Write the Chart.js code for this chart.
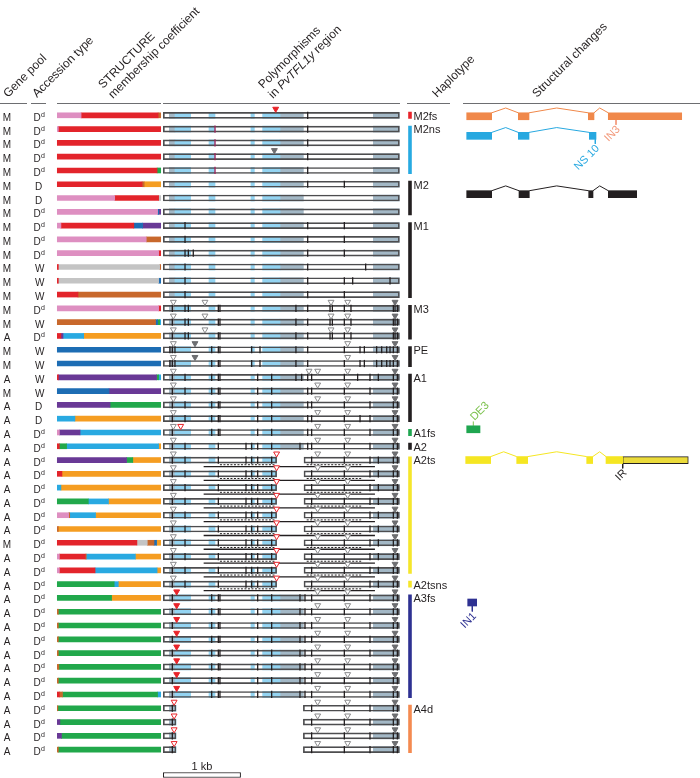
<!DOCTYPE html>
<html>
<head>
<meta charset="utf-8">
<script src="https://cdn.jsdelivr.net/npm/chart.js@4.4.0/dist/chart.umd.min.js"></script>
<style>
  html, body { margin: 0; padding: 0; background: #fff; }
  #wrap { position: relative; width: 700px; height: 778px; }
</style>
</head>
<body>
<div id="wrap"><canvas id="fig" width="700" height="778"></canvas></div>
<script>
// ---- accessions (one entry per row, top to bottom) ----
const genePool = ['M','M','M','M','M','M','M','M','M','M','M','M','M','M','M','M','A','M','M','A','M',
  'A','A','A','A','A','A','A','A','A','A','M','A','A','A','A','A','A','A','A','A','A','A','A','A','A','A'];
const accession = ['Dd','Dd','Dd','Dd','Dd','D','D','Dd','Dd','Dd','Dd','W','W','W','Dd','W','Dd','W','W','W','W','D','D',
  'Dd','Dd','Dd','Dd','Dd','Dd','Dd','Dd','Dd','Dd','Dd','Dd','Dd','Dd','Dd','Dd','Dd','Dd','Dd','Dd','Dd','Dd','Dd','Dd'];

// ---- STRUCTURE membership coefficients (left to right order) ----
const qPink = [0.23,0.01,0,0,0, 0,0.555,0.97,0.035,0.86, 0.98,0,0,0,0.98, 0,0,0,0,0, 0,0,0,0.02,0, 0,0,0,0,0.11, 0,0,0.02,0.02,0, 0,0,0,0,0, 0,0,0,0,0, 0,0];
const qRed = [0.745,0.99,1,1,0.965, 0.82,0.425,0,0.705,0, 0.02,0.01,0.01,0.2,0.02, 0,0.035,0,0,0.01, 0,0,0,0,0.02, 0,0.045,0,0,0, 0,0.77,0.25,0.345,0, 0,0,0,0,0, 0,0,0.02,0,0, 0,0];
const qGrey = [0,0,0,0,0, 0,0.02,0,0,0, 0,0.98,0.97,0,0, 0,0,0,0,0, 0,0,0,0,0, 0,0,0,0,0, 0,0.1,0,0,0, 0,0,0,0,0, 0,0,0,0,0, 0,0];
const qBrown = [0.025,0,0,0,0, 0.02,0,0,0,0.14, 0,0.01,0,0.8,0, 0.95,0,0,0,0, 0,0,0,0,0, 0,0,0,0,0.01, 0.01,0.065,0.01,0,0, 0,0.01,0.01,0.01,0.01, 0.015,0.01,0.03,0.005,0, 0,0.01];
const qDarkBlue = [0,0,0,0,0, 0,0,0.01,0.085,0, 0,0,0.02,0,0, 0.02,0,1,1,0, 0.5,0,0,0,0, 0,0,0,0,0, 0,0.025,0,0,0, 0,0,0,0,0, 0,0,0,0,0, 0,0];
const qPurple = [0,0,0,0,0, 0,0,0.02,0.175,0, 0,0,0,0,0, 0,0.02,0,0,0.95, 0.5,0.51,0,0.2,0, 0.67,0,0,0,0, 0,0,0,0,0, 0,0,0,0,0, 0,0,0,0,0.025, 0.04,0];
const qGreen = [0,0,0,0,0.035, 0,0,0,0,0, 0,0,0,0,0, 0.02,0,0,0,0.02, 0,0.49,0,0,0.07, 0.06,0,0,0.3,0, 0,0,0,0,0.55, 0.525,0.99,0.99,0.99,0.99, 0.985,0.99,0.92,0.995,0.975, 0.96,0.99];
const qLightBlue = [0,0,0,0,0, 0,0,0,0,0, 0,0,0,0,0, 0.01,0.2,0,0,0.02, 0,0,0.17,0.78,0.89, 0,0,0.035,0.195,0.25, 0,0,0.475,0.6,0.04, 0,0,0,0,0, 0,0,0.03,0,0, 0,0];
const qOrange = [0,0,0,0,0, 0.16,0,0,0,0, 0,0,0,0,0, 0,0.745,0,0,0, 0,0,0.83,0,0.02, 0.27,0.955,0.965,0.505,0.63, 0.99,0.04,0.245,0.035,0.41, 0.475,0,0,0,0, 0,0,0,0,0, 0,0];

// ---- PvTFL1y region (bp) ----
const geneBoxes = {
  full: [[0, 3054]],
  split: [[0, 1466], [1820, 3054]],
  del: [[0, 164], [1812, 3054]]
};
const rowLayout = [].concat(Array(25).fill('full'), Array(10).fill('split'), Array(8).fill('full'), Array(4).fill('del'));
const shadeLight = [[151, 354], [591, 669], [1134, 1178], [1285, 1510]];
const shadeGrey = [[78, 151], [1510, 1812], [2717, 3054]];

// SNP positions per haplotype pattern
const sM2 = [1868];
const sM2b = [1868, 2342];
const sNone = [];
const sM1a = [281, 1868, 2342];
const sM1b = [281, 324, 388, 1868, 2342];
const sM1c = [281, 1868, 2618];
const sM1d = [281, 1868, 2342, 2450, 2933];
const sM3 = [117, 281, 324, 712, 733, 1716, 1868, 2157, 2187, 2342, 2428, 2976, 2998, 3028];
const sPE = [86, 117, 151, 626, 712, 733, 1143, 1251, 1716, 1868, 2342, 2545, 2601, 2760, 2825, 2890, 2933, 2976, 3028];
const sA1a = [117, 281, 626, 712, 733, 1221, 1402, 1716, 1790, 1868, 1919, 2342, 2514, 2674, 2782, 2976, 3028];
const sA1 = [117, 281, 626, 712, 733, 1221, 1402, 1868, 1919, 2342, 2674, 2976, 3028];
const sA1b = [117, 281, 626, 712, 733, 1221, 1402, 1868, 1919, 2342, 2545, 2674, 2976, 3028];
const sA1fs = [117, 626, 712, 733, 1221, 1402, 1868, 1919, 2342, 2674, 2976, 3028];
const sA2 = [117, 281, 712, 1070, 1143, 1221, 1402, 1768, 1868, 1919, 2342, 2674, 2976, 3028];
const sA2ts = [117, 281, 712, 1070, 1143, 1221, 1402, 1919, 2342, 2674, 2782, 2976, 3028];
const sA3fs = [117, 626, 712, 733, 1221, 1402, 1768, 1833, 1919, 2342, 2674, 2976, 3028];
const sA4d = [117, 1919, 2342, 2674, 2976, 3028];
const snpRows = [].concat([sM2, sM2, sM2, sM2, sM2, sM2b, sNone, sNone],
  [sM1a, sM1a, sM1b, sM1c, sM1d, sM1a], [sM3, sM3, sM3], [sPE, sPE],
  [sA1a, sA1, sA1, sA1b, sA1fs, sA2], Array(10).fill(sA2ts), Array(8).fill(sA3fs), Array(4).fill(sA4d));
const redSnpRows = [2, 3, 4, 5];
const redSnpPos = 669;

// indels: [kind, bp]
const tNone = [];
const tM2fs = [['red', 1454]];
const tM2ns = [['grey', 1437]];
const tM3 = [['open', 130], ['open', 539], ['open', 2170], ['open', 2385], ['grey', 2998]];
const tPE = [['open', 130], ['grey', 410], ['open', 2385], ['grey', 2998]];
const tA1a = [['open', 130], ['open', 1885], ['open', 1997], ['open', 2385], ['grey', 2998]];
const tA1 = [['open', 130], ['open', 1997], ['open', 2385], ['grey', 2998]];
const tA1fs = [['open', 130], ['redOpen', 225], ['open', 1997], ['open', 2385], ['grey', 2998]];
const tA2ts = [['open', 130], ['redOpen', 1466], ['open', 1997], ['open', 2385], ['grey', 2998]];
const tA3fs = [['red', 173], ['open', 1997], ['open', 2385], ['grey', 2998]];
const tA4d = [['redOpen', 140], ['open', 1997], ['open', 2385], ['grey', 2998]];
const triRows = [].concat([tM2fs, tNone, tNone, tM2ns, tNone], Array(9).fill(tNone),
  [tM3, tM3, tM3, tPE, tPE, tA1a, tA1, tA1, tA1, tA1fs, tA1], Array(10).fill(tA2ts), Array(8).fill(tA3fs), Array(4).fill(tA4d));

// translocation links under A2ts / A2tsns rows
const linkRows = [26, 27, 28, 29, 30, 31, 32, 33, 34, 35];
const linkSolid = [522, 2738];
const linkDashed = [[733, 1445], [1855, 2580]];

// ---- haplotypes: [label, first row, last row, colour] ----
const INK = '#231f20';
const haplotypes = [
  ['M2fs', 1, 1, '#e8242a'], ['M2ns', 2, 5, '#27aae1'], ['M2', 6, 8, INK], ['M1', 9, 14, INK],
  ['M3', 15, 17, INK], ['PE', 18, 19, INK], ['A1', 20, 23, INK], ['A1fs', 24, 24, '#1fa650'],
  ['A2', 25, 25, INK], ['A2ts', 26, 34, '#f5e62b'], ['A2tsns', 35, 35, '#f5e62b'],
  ['A3fs', 36, 43, '#2e3192'], ['A4d', 44, 47, '#f48a50']
];

// ---- structural changes (gene models) ----
const models = [
  { row: 1.07, color: '#f0884a', exons: [[0, 25], [51.6, 62.3], [121.6, 127.3], [141.6, 215]], peaks: [39, 90, 133] },
  { row: 2.49, color: '#27a8e0', exons: [[0, 25], [51.6, 62.3], [122.6, 129.3]], peaks: [39, 90] },
  { row: 6.72, color: INK, exons: [[0, 25], [52.3, 62.6], [122, 126.3], [141.6, 170]], peaks: [39, 90, 133] },
  { row: 26.0, color: '#f5e622', exons: [[-1, 24], [50, 61], [120, 126], [139.3, 156]], peaks: [37, 90, 133] }
];
const irBox = [156, 221.6];
const de3Box = [0, 13.3];
const in1Box = [1, 10];
const de3Row = 23.77;
const in1Row = 36.33;
// annotation ticks: [x, fromRow, toRow, label, colour, align]
const notes = [
  [149.3, 1.32, 1.69, 'IN3', '#f39a7c', 'right'],
  [128.6, 2.74, 3.07, 'NS 10', '#29a9e1', 'right'],
  [156, 26.25, 26.6, 'IR', INK, 'right'],
  [6.6, 23.52, 23.2, 'DE3', '#7cc24e', 'left'],
  [5.6, 36.58, 36.98, 'IN1', '#2e3192', 'right']
];

const scaleBarKb = [0, 1000];
const scaleBarRow = 48.84;

const FONT = '"Liberation Sans", Arial, Helvetica, sans-serif';
const COLORS = {
  pink: '#de8fc1', red: '#e3242b', grey: '#c4c4c4', brown: '#c8682c', dblue: '#1d6db4',
  purple: '#693996', green: '#21a84b', lblue: '#29a9e1', orange: '#f59d21'
};

// ---------- build datasets ----------
const datasets = [];

const components = [
  [qPink, COLORS.pink], [qRed, COLORS.red], [qGrey, COLORS.grey], [qBrown, COLORS.brown],
  [qDarkBlue, COLORS.dblue], [qPurple, COLORS.purple], [qGreen, COLORS.green],
  [qLightBlue, COLORS.lblue], [qOrange, COLORS.orange]
];
components.forEach(function(c) {
  const pts = [];
  c[0].forEach(function(v, i) { if (v > 0) pts.push({ x: v, y: i + 1 }); });
  datasets.push({
    type: 'bar', indexAxis: 'y', xAxisID: 'xs', yAxisID: 'y', data: pts,
    backgroundColor: c[1], borderWidth: 0, barThickness: 5, grouped: false, stack: 'q', order: 45
  });
});

// gene boxes, shading, outlines
const boxPts = [], lightPts = [], greyPts = [];
function clipInto(target, shades, box, row) {
  shades.forEach(function(s) {
    const a = Math.max(s[0], box[0]), b = Math.min(s[1], box[1]);
    if (b > a) target.push({ x: [a, b], y: row });
  });
}
rowLayout.forEach(function(t, i) {
  geneBoxes[t].forEach(function(b) {
    boxPts.push({ x: b, y: i + 1 });
    clipInto(lightPts, shadeLight, b, i + 1);
    clipInto(greyPts, shadeGrey, b, i + 1);
  });
});
const barBase = { type: 'bar', indexAxis: 'y', xAxisID: 'xg', yAxisID: 'y', grouped: false, barThickness: 6, borderWidth: 0 };
datasets.push(Object.assign({}, barBase, { data: boxPts, backgroundColor: '#ffffff', order: 60 }));
datasets.push(Object.assign({}, barBase, { data: lightPts, backgroundColor: '#93d4f2', order: 55 }));
datasets.push(Object.assign({}, barBase, { data: greyPts, backgroundColor: '#a3b8c6', order: 55 }));
datasets.push(Object.assign({}, barBase, {
  data: boxPts, backgroundColor: 'rgba(0,0,0,0)', borderColor: '#4d4d4f', borderWidth: 1, borderSkipped: false, order: 40
}));

// SNPs
const snpPts = [];
snpRows.forEach(function(list, i) { list.forEach(function(bp) { snpPts.push({ x: bp, y: i + 1 }); }); });
const snpBase = { type: 'scatter', xAxisID: 'xg', yAxisID: 'y', pointStyle: 'line', pointRotation: 90, pointRadius: 3.6, pointBorderWidth: 1.3, order: 30 };
datasets.push(Object.assign({}, snpBase, { data: snpPts, pointBorderColor: INK }));
datasets.push(Object.assign({}, snpBase, { data: redSnpRows.map(function(r) { return { x: redSnpPos, y: r }; }), pointBorderColor: '#a3235a' }));

// indel triangles
const triStyle = {
  open: ['#ffffff', '#8a8a8c'], grey: ['#6d6e71', '#6d6e71'],
  red: ['#e8242a', '#e8242a'], redOpen: ['#ffffff', '#e8242a']
};
Object.keys(triStyle).forEach(function(kind) {
  const pts = [];
  triRows.forEach(function(list, i) {
    list.forEach(function(t) { if (t[0] === kind) pts.push({ x: t[1], y: i + 1 - 0.46 }); });
  });
  datasets.push({
    type: 'scatter', xAxisID: 'xg', yAxisID: 'y', data: pts, pointStyle: 'triangle', pointRotation: 180,
    pointRadius: 3.4, pointBackgroundColor: triStyle[kind][0], pointBorderColor: triStyle[kind][1], pointBorderWidth: 1, order: 10
  });
});

// translocation links
const solidPts = [], dashPts = [];
linkRows.forEach(function(r) {
  solidPts.push({ x: linkSolid[0], y: r + 0.47 }, { x: linkSolid[1], y: r + 0.47 }, { x: linkSolid[1], y: null });
  linkDashed.forEach(function(d) {
    dashPts.push({ x: d[0], y: r + 0.34 }, { x: d[1], y: r + 0.34 }, { x: d[1], y: null });
  });
});
datasets.push({ type: 'line', xAxisID: 'xg', yAxisID: 'y', data: solidPts, borderColor: INK, borderWidth: 1.3, pointRadius: 0, order: 20 });
datasets.push({ type: 'line', xAxisID: 'xg', yAxisID: 'y', data: dashPts, borderColor: INK, borderWidth: 1, borderDash: [2, 1.5], pointRadius: 0, order: 20 });

// scale bar
datasets.push(Object.assign({}, barBase, {
  data: [{ x: scaleBarKb, y: scaleBarRow }], barThickness: 5, backgroundColor: '#ffffff',
  borderColor: INK, borderWidth: 1, borderSkipped: false, order: 5
}));

// haplotype bars
haplotypes.forEach(function(h) {
  datasets.push({
    type: 'line', xAxisID: 'xp', yAxisID: 'y', borderColor: h[3], borderWidth: 3.6, borderCapStyle: 'butt', pointRadius: 0, order: 5,
    data: [{ x: 410, y: h[1] - 0.25 }, { x: 410, y: h[2] + 0.25 }]
  });
});

// gene models
const mBar = { type: 'bar', indexAxis: 'y', xAxisID: 'xm', yAxisID: 'y', grouped: false, barThickness: 7, borderWidth: 0, order: 5 };
models.forEach(function(m) {
  datasets.push(Object.assign({}, mBar, { data: m.exons.map(function(e) { return { x: e, y: m.row }; }), backgroundColor: m.color }));
  const pts = [];
  m.peaks.forEach(function(p, k) {
    pts.push({ x: m.exons[k][1], y: m.row - 0.25 }, { x: p, y: m.row - 0.6 }, { x: m.exons[k + 1][0], y: m.row - 0.25 }, { x: p, y: null });
  });
  datasets.push({ type: 'line', xAxisID: 'xm', yAxisID: 'y', data: pts, borderColor: m.color, borderWidth: 1, pointRadius: 0, order: 5 });
});
datasets.push(Object.assign({}, mBar, { data: [{ x: irBox, y: models[3].row }], backgroundColor: '#ebdb3b', borderColor: INK, borderWidth: 1, borderSkipped: false }));
datasets.push(Object.assign({}, mBar, { data: [{ x: de3Box, y: de3Row }], backgroundColor: '#1fa650' }));
datasets.push(Object.assign({}, mBar, { data: [{ x: in1Box, y: in1Row }], backgroundColor: '#2e3192' }));
notes.forEach(function(n) {
  datasets.push({ type: 'line', xAxisID: 'xm', yAxisID: 'y', data: [{ x: n[0], y: n[1] }, { x: n[0], y: n[2] }], borderColor: n[4], borderWidth: 1, pointRadius: 0, order: 5 });
});

// ---------- text ----------
function slanted(ctx, x, y, lines, size) {
  ctx.save();
  ctx.translate(x, y);
  ctx.rotate(-Math.PI / 4);
  ctx.textAlign = 'left';
  ctx.textBaseline = 'alphabetic';
  lines.forEach(function(parts, li) {
    let cx = 0;
    const cy = (li - (lines.length - 1)) * 14;
    parts.forEach(function(p) {
      ctx.font = (p[1] ? 'italic ' : '') + size + 'px ' + FONT;
      ctx.fillText(p[0], cx, cy);
      cx += ctx.measureText(p[0]).width;
    });
  });
  ctx.restore();
}

const headerRules = [[0, 27], [31, 46], [57, 161], [163, 400], [407, 450], [463, 700]];

const figureText = {
  id: 'figureText',
  afterDraw(chart) {
    const ctx = chart.ctx;
    const ys = chart.scales.y, xg = chart.scales.xg, xm = chart.scales.xm;
    ctx.save();
    ctx.fillStyle = INK;

    ctx.strokeStyle = '#6d6e71';
    ctx.lineWidth = 1;
    headerRules.forEach(function(r) {
      ctx.beginPath(); ctx.moveTo(r[0], 103.5); ctx.lineTo(r[1], 103.5); ctx.stroke();
    });

    slanted(ctx, 8, 98, [[['Gene pool']]], 12);
    slanted(ctx, 37, 98, [[['Accession type']]], 12);
    slanted(ctx, 113, 99, [[['STRUCTURE']], [['membership coefficient']]], 12);
    slanted(ctx, 273, 99, [[['Polymorphisms']], [['in '], ['PvTFL1y', true], [' region']]], 12);
    slanted(ctx, 437, 98, [[['Haplotype']]], 12);
    slanted(ctx, 537, 98, [[['Structural changes']]], 12);

    genePool.forEach(function(g, i) {
      const py = ys.getPixelForValue(i + 1);
      ctx.font = '10px ' + FONT;
      ctx.textAlign = 'center';
      ctx.fillText(g, 7, py + 5.5);
      ctx.textAlign = 'left';
      const acc = accession[i];
      if (acc === 'Dd') {
        ctx.fillText('D', 33.5, py + 5.5);
        const w = ctx.measureText('D').width;
        ctx.font = '7px ' + FONT;
        ctx.fillText('d', 33.5 + w + 0.3, py + 1.5);
      } else {
        ctx.fillText(acc, 35, py + 5.5);
      }
    });

    ctx.font = '11px ' + FONT;
    ctx.textAlign = 'left';
    haplotypes.forEach(function(h) {
      const top = ys.getPixelForValue(h[1] - 0.25);
      ctx.fillText(h[0], 413.5, top + 7.8);
    });

    ctx.textAlign = 'center';
    ctx.fillText('1 kb', xg.getPixelForValue((scaleBarKb[0] + scaleBarKb[1]) / 2), ys.getPixelForValue(scaleBarRow) - 5);

    notes.forEach(function(n) {
      const px = xm.getPixelForValue(n[0]);
      const py = ys.getPixelForValue(n[2]);
      ctx.save();
      ctx.translate(px + (n[5] === 'left' ? -1 : 2.5), py + (n[5] === 'left' ? -2.5 : 3));
      ctx.rotate(-Math.PI / 4);
      ctx.font = '11px ' + FONT;
      ctx.fillStyle = n[4];
      ctx.textAlign = n[5];
      ctx.textBaseline = 'middle';
      ctx.fillText(n[3], 0, 0);
      ctx.restore();
    });
    ctx.restore();
  }
};

// hidden axes: exact ranges, no nice-rounding or offsets
const hidden = { type: 'linear', display: false, bounds: 'data', offset: false, grace: 0, ticks: { includeBounds: true } };

new Chart(document.getElementById('fig').getContext('2d'), {
  type: 'scatter',
  data: { datasets: datasets },
  options: {
    responsive: false,
    animation: false,
    events: [],
    layout: { padding: 0, autoPadding: false },
    plugins: { legend: { display: false }, tooltip: { enabled: false } },
    scales: {
      y: Object.assign({}, hidden, { axis: 'y', min: -7.361, max: 49.057, reverse: true }),
      xs: Object.assign({}, hidden, { axis: 'x', min: -0.5542, max: 6.2156, stacked: true }),
      xg: Object.assign({}, hidden, { axis: 'x', min: -2112.5, max: 6943.1 }),
      xm: Object.assign({}, hidden, { axis: 'x', min: -466.7, max: 233.3 }),
      xp: Object.assign({}, hidden, { axis: 'x', min: 0, max: 700 })
    }
  },
  plugins: [figureText]
});
</script>
</body>
</html>
